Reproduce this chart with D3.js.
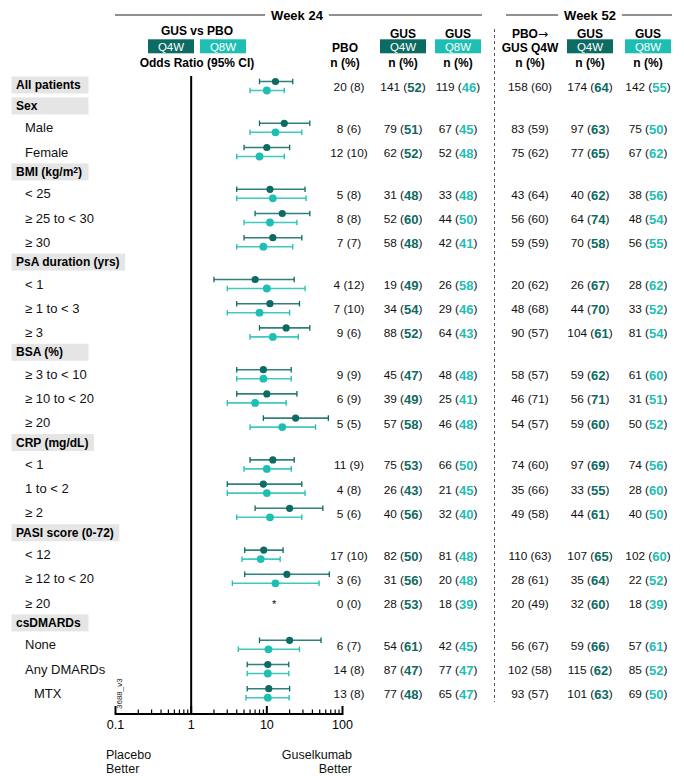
<!DOCTYPE html>
<html>
<head>
<meta charset="utf-8">
<script src="https://cdn.jsdelivr.net/npm/d3@7"></script>
<style>
  body { margin: 0; background: #fff; }
  svg { font-family: "Liberation Sans", Arial, Helvetica, sans-serif; }
</style>
</head>
<body>
<script>
// subgroup rows, top to bottom
const rowLabels = [
  "All patients", "Sex", "Male", "Female",
  "BMI (kg/m2)", "< 25", "\u2265 25 to < 30", "\u2265 30",
  "PsA duration (yrs)", "< 1", "\u2265 1 to < 3", "\u2265 3",
  "BSA (%)", "\u2265 3 to < 10", "\u2265 10 to < 20", "\u2265 20",
  "CRP (mg/dL)", "< 1", "1 to < 2", "\u2265 2",
  "PASI score (0-72)", "< 12", "\u2265 12 to < 20", "\u2265 20",
  "csDMARDs", "None", "Any DMARDs", "MTX"
];
// rows drawn as grey group headers (All patients also carries data)
const headerRows = ["All patients", "Sex", "BMI (kg/m2)", "PsA duration (yrs)", "BSA (%)",
  "CRP (mg/dL)", "PASI score (0-72)", "csDMARDs"];
const groupOnly = ["Sex", "BMI (kg/m2)", "PsA duration (yrs)", "BSA (%)",
  "CRP (mg/dL)", "PASI score (0-72)", "csDMARDs"];
const subRows = ["MTX"];

// odds ratio [estimate, lower, upper], one per data row; null = not estimable
const orQ4W = [
  [13, 8, 22], [17, 8, 37], [10, 5, 20],
  [11, 4, 32], [16, 7, 37], [12, 5, 29],
  [7, 2, 23], [11, 4, 27], [18, 8, 37],
  [9, 4, 21], [10, 4, 25], [24, 9, 65],
  [12, 6, 23], [9, 3, 29], [20, 7, 55],
  [9.1, 5.1, 16.4], [18.4, 5.1, 67], null,
  [20, 8, 52], [10.3, 5.5, 19.5], [10.6, 5.5, 20]
];
const orQ8W = [
  [10, 6, 17], [13, 6, 29], [8, 4, 17],
  [12, 4, 33], [11, 5, 25], [9, 4, 22],
  [10, 3, 32], [8, 3, 20], [12, 6, 26],
  [9, 4, 21], [7, 3, 18], [16, 6, 44],
  [10, 5, 21], [10, 3, 32], [11, 4, 29],
  [8.3, 4.7, 15], [13, 3.5, 49], null,
  [10.5, 4.2, 27], [10.3, 5.5, 19.5], [10.3, 5.3, 19.7]
];

// responders n (%)
const pbo24 = [[20,8],[8,6],[12,10],[5,8],[8,8],[7,7],[4,12],[7,10],[9,6],[9,9],[6,9],[5,5],
  [11,9],[4,8],[5,6],[17,10],[3,6],[0,0],[6,7],[14,8],[13,8]];
const q4w24 = [[141,52],[79,51],[62,52],[31,48],[52,60],[58,48],[19,49],[34,54],[88,52],[45,47],[39,49],[57,58],
  [75,53],[26,43],[40,56],[82,50],[31,56],[28,53],[54,61],[87,47],[77,48]];
const q8w24 = [[119,46],[67,45],[52,48],[33,48],[44,50],[42,41],[26,58],[29,46],[64,43],[48,48],[25,41],[46,48],
  [66,50],[21,45],[32,40],[81,48],[20,48],[18,39],[42,45],[77,47],[65,47]];
const pbo52 = [[158,60],[83,59],[75,62],[43,64],[56,60],[59,59],[20,62],[48,68],[90,57],[58,57],[46,71],[54,57],
  [74,60],[35,66],[49,58],[110,63],[28,61],[20,49],[56,67],[102,58],[93,57]];
const q4w52 = [[174,64],[97,63],[77,65],[40,62],[64,74],[70,58],[26,67],[44,70],[104,61],[59,62],[56,71],[59,60],
  [97,69],[33,55],[44,61],[107,65],[35,64],[32,60],[59,66],[115,62],[101,63]];
const q8w52 = [[142,55],[75,50],[67,62],[38,56],[48,54],[56,55],[28,62],[33,52],[81,54],[61,60],[31,51],[50,52],
  [74,56],[28,60],[40,50],[102,60],[22,52],[18,39],[57,61],[85,52],[69,50]];

const axisTicks = [0.1, 1, 10, 100];

const width = 684, height = 776;
const darkTeal = "#0c6b62", lightTeal = "#1ebfb2";

const svg = d3.select("body").append("svg")
    .attr("width", width)
    .attr("height", height);

// vertical layout: data rows are closer together than rows around a group header
const rowY = [];
let yy = 86;
rowLabels.forEach((lab, i) => {
  if (i > 0) {
    const prevData = !groupOnly.includes(rowLabels[i-1]);
    const curData = !groupOnly.includes(lab);
    yy += (prevData && curData) ? 24.2 : 20.9;
  }
  rowY.push(yy);
});
const dataRows = rowLabels.map((d, i) => ({label: d, y: rowY[i]}))
  .filter(d => !groupOnly.includes(d.label));

const x = d3.scaleLog().domain([0.1, 100]).range([115.5, 342.5]);
const axisY = 714;

// ---- top headers ----
function weekHeader(label, cx, x0, x1) {
  const t = svg.append("text").attr("x", cx).attr("y", 15)
    .attr("text-anchor", "middle").attr("dominant-baseline", "central")
    .attr("font-weight", "bold").attr("font-size", 13).text(label);
  const w = t.node().getComputedTextLength();
  svg.append("line").attr("x1", x0).attr("x2", cx - w/2 - 6).attr("y1", 15).attr("y2", 15)
    .attr("stroke", "#222").attr("stroke-width", 1.2);
  svg.append("line").attr("x1", cx + w/2 + 6).attr("x2", x1).attr("y1", 15).attr("y2", 15)
    .attr("stroke", "#222").attr("stroke-width", 1.2);
}
weekHeader("Week 24", 297, 115, 482);
weekHeader("Week 52", 590, 506, 672);

function boldText(txt, cx, cy, size) {
  return svg.append("text").attr("x", cx).attr("y", cy)
    .attr("text-anchor", "middle").attr("dominant-baseline", "central")
    .attr("font-weight", "bold").attr("font-size", size || 12).text(txt);
}
function doseBox(label, cx, cy, w, fill) {
  svg.append("rect").attr("x", cx - w/2).attr("y", cy - 7).attr("width", w).attr("height", 14)
    .attr("fill", fill);
  svg.append("text").attr("x", cx).attr("y", cy + 0.5)
    .attr("text-anchor", "middle").attr("dominant-baseline", "central")
    .attr("fill", "#fff").attr("font-size", 11.5).text(label);
}

boldText("GUS vs PBO", 197, 31);
doseBox("Q4W", 171, 46.3, 46, darkTeal);
doseBox("Q8W", 223, 46.3, 46, lightTeal);
boldText("Odds Ratio (95% CI)", 197, 63);

// table column centres
const cols = [
  {cx: 349, head: ["", "PBO"], box: null, vals: pbo24, color: null},
  {cx: 403, head: ["GUS"], box: ["Q4W", darkTeal], vals: q4w24, color: darkTeal},
  {cx: 458, head: ["GUS"], box: ["Q8W", lightTeal], vals: q8w24, color: lightTeal},
  {cx: 530, head: ["PBO\u2192", "GUS Q4W"], box: null, vals: pbo52, color: null},
  {cx: 590, head: ["GUS"], box: ["Q4W", darkTeal], vals: q4w52, color: darkTeal},
  {cx: 648, head: ["GUS"], box: ["Q8W", lightTeal], vals: q8w52, color: lightTeal}
];
cols.forEach((c, j) => {
  const hx = j === 0 ? 345 : c.cx;
  c.head.forEach((h, k) => {
    if (!h) return;
    const t = boldText(h.replace("\u2192", ""), hx, 34 + k*14.3);
    // the arrow glyph is drawn from DejaVu so it keeps a proper size
    if (h.includes("\u2192")) t.append("tspan").attr("font-family", "DejaVu Sans").attr("font-weight", "normal").text("\u2192");
  });
  if (c.box) doseBox(c.box[0], hx, 46.3, 46, c.box[1]);
  boldText("n (%)", hx, 63);
});

// dashed separator between weeks
svg.append("line").attr("x1", 494.5).attr("x2", 494.5).attr("y1", 29).attr("y2", 702)
  .attr("stroke", "#555").attr("stroke-width", 1).attr("stroke-dasharray", "3,3");

// ---- row labels ----
const labelG = svg.append("g");
rowLabels.forEach((lab, i) => {
  const y = rowY[i];
  if (headerRows.includes(lab)) {
    const g = labelG.append("g");
    const rect = g.append("rect").attr("x", 11.5).attr("y", y - 9.5).attr("height", 17).attr("fill", "#e5e5e5");
    const t = g.append("text").attr("x", 16).attr("y", y - 1)
      .attr("dominant-baseline", "central").attr("font-weight", "bold").attr("font-size", 12);
    if (lab === "BMI (kg/m2)") {
      t.append("tspan").text("BMI (kg/m");
      t.append("tspan").attr("font-size", 8.5).attr("dy", -2).text("2");
      t.append("tspan").attr("dy", 2).text(")");
    } else {
      t.text(lab);
    }
    const w = t.node().getComputedTextLength();
    rect.attr("width", Math.max(77, w + 10));
  } else {
    labelG.append("text").attr("x", subRows.includes(lab) ? 34 : 25).attr("y", y)
      .attr("dominant-baseline", "central").attr("font-size", 13).attr("fill", "#111")
      .text(lab);
  }
});

// ---- forest plot ----
svg.append("line").attr("x1", x(1)).attr("x2", x(1)).attr("y1", 76).attr("y2", axisY)
  .attr("stroke", "#000").attr("stroke-width", 2);

const plot = svg.append("g");
function drawSeries(vals, dy, color, r) {
  const g = plot.append("g");
  dataRows.forEach((row, i) => {
    const v = vals[i];
    if (!v) return;
    const y = row.y + dy;
    g.append("line").attr("x1", x(v[1])).attr("x2", x(v[2])).attr("y1", y).attr("y2", y)
      .attr("stroke", color).attr("stroke-width", 1.6).attr("stroke-opacity", 0.85);
    [v[1], v[2]].forEach(e => {
      g.append("line").attr("x1", x(e)).attr("x2", x(e)).attr("y1", y - 2.8).attr("y2", y + 2.8)
        .attr("stroke", color).attr("stroke-width", 1.3);
    });
    g.append("circle").attr("cx", x(v[0])).attr("cy", y).attr("r", r).attr("fill", color);
  });
}
drawSeries(orQ4W, -4.5, darkTeal, 3.6);
drawSeries(orQ8W, 4.5, lightTeal, 3.9);

// not estimable marker
dataRows.forEach((row, i) => {
  if (!orQ4W[i] && !orQ8W[i]) {
    plot.append("text").attr("x", x(12.5)).attr("y", row.y + 5)
      .attr("text-anchor", "middle").attr("font-size", 11).text("*");
  }
});

// axis
const minor = [];
[0.1, 1, 10].forEach(b => { for (let k = 2; k <= 9; k++) minor.push(b * k); });
const axisG = svg.append("g").attr("transform", `translate(0,${axisY})`);
axisG.append("line").attr("x1", x(0.1)).attr("x2", x(100)).attr("stroke", "#000").attr("stroke-width", 2);
axisG.selectAll(".minor").data(minor).join("line").attr("class", "minor")
  .attr("x1", d => x(d)).attr("x2", d => x(d)).attr("y1", 0).attr("y2", -4.5)
  .attr("stroke", "#000").attr("stroke-width", 1.2);
axisG.selectAll(".major").data(axisTicks).join("line").attr("class", "major")
  .attr("x1", d => x(d)).attr("x2", d => x(d)).attr("y1", -8).attr("y2", 1)
  .attr("stroke", "#000").attr("stroke-width", 2);
axisG.selectAll(".lab").data(axisTicks).join("text").attr("class", "lab")
  .attr("x", d => x(d)).attr("y", 15).attr("text-anchor", "middle")
  .attr("font-size", 12.5).text(d => d);

const foot = [["Placebo", 106, "start"], ["Better", 106, "start"], ["Guselkumab", 352, "end"], ["Better", 352, "end"]];
foot.forEach((f, i) => {
  svg.append("text").attr("x", f[1]).attr("y", 759 + (i % 2) * 13.5).attr("text-anchor", f[2])
    .attr("font-size", 12.5).attr("fill", "#111").text(f[0]);
});

svg.append("text").attr("transform", "translate(122,709) rotate(-90)")
  .attr("font-size", 8).attr("fill", "#222").text("3688_v3");

// ---- table values ----
cols.forEach(c => {
  dataRows.forEach((row, i) => {
    const v = c.vals[i];
    const t = svg.append("text").attr("x", c.cx).attr("y", row.y + 1)
      .attr("text-anchor", "middle").attr("dominant-baseline", "central")
      .attr("font-size", 11.8).attr("fill", "#111");
    if (c.color) {
      t.append("tspan").text(v[0] + " (");
      t.append("tspan").attr("font-weight", "bold").attr("font-size", 13).attr("fill", c.color).text(v[1]);
      t.append("tspan").text(")");
    } else {
      t.text(v[0] + " (" + v[1] + ")");
    }
  });
});
</script>
</body>
</html>
